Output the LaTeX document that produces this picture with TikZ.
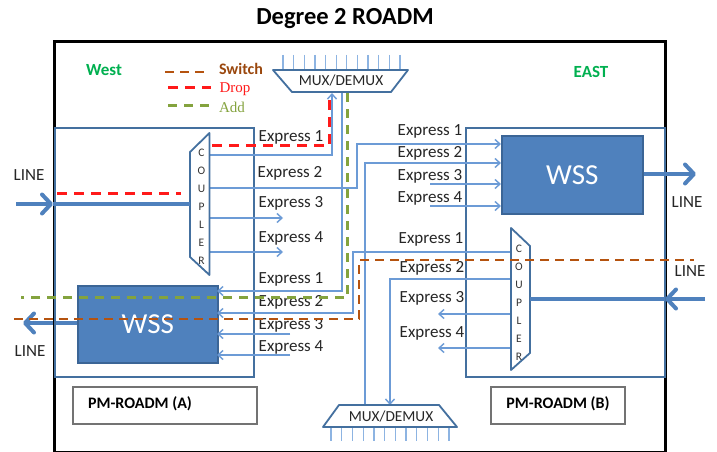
\documentclass[tikz,border=0pt]{standalone}
\usepackage{fontspec}
\setmainfont{Carlito}
\newfontfamily\serifface{Liberation Serif}
\usetikzlibrary{arrows.meta}
\definecolor{thickblue}{HTML}{4F81BD}
\definecolor{thinblue}{HTML}{6C9BD6}
\definecolor{boxblue}{HTML}{44709F}
\definecolor{wssedge}{HTML}{3B6596}
\definecolor{tickblue}{HTML}{8DB4E2}
\definecolor{greenlabel}{HTML}{00B050}
\definecolor{switchbrown}{HTML}{B5530F}
\definecolor{dropred}{HTML}{FF1A1A}
\definecolor{addolive}{HTML}{84A33E}
\newcommand{\fs}[1]{\fontsize{#1}{#1}\selectfont}
\tikzset{
  frame/.style={draw=black,line width=2.8pt},
  pmbox/.style={draw=boxblue,line width=1.7pt},
  wssbox/.style={draw=wssedge,line width=1.5pt,fill=thickblue,text=white,font=\fs{29},inner sep=0pt,anchor=north west},
  trap/.style={draw=boxblue,line width=1.8pt,fill=white,line join=round},
  flow/.style={draw=thinblue,line width=1.6pt,-{Straight Barb[length=5pt,width=9pt,line width=1.4pt]}},
  thickline/.style={draw=thickblue,line width=4pt},
  thickarrow/.style={draw=thickblue,line width=4pt,-{Straight Barb[length=9pt,width=19pt,line width=4pt,round]}},
  tick/.style={draw=tickblue,line width=1.3pt},
  switchline/.style={draw=switchbrown,line width=2.2pt,dash pattern=on 9pt off 6pt},
  dropline/.style={draw=dropred,line width=3pt,dash pattern=on 10pt off 7pt},
  addline/.style={draw=addolive,line width=3pt,dash pattern=on 9pt off 7pt},
  explabel/.style={font=\fs{17},text=black!85,inner sep=0pt,yshift=-1pt},
  linelabel/.style={font=\fs{17},text=black!85,inner sep=0pt,yshift=-1pt},
  muxlabel/.style={font=\fs{15.3},text=black!85,inner sep=0pt},
  pmlabel/.style={draw=black!55,line width=1.5pt,fill=white,anchor=north west,inner sep=0pt},
  letters/.style={font=\fs{11.5},text=black!80,align=center,inner sep=0pt},
}
\begin{document}
\begin{tikzpicture}[x=1pt,y=-1pt]
\useasboundingbox[fill=white] (0,0) rectangle (717,452);

% west line output passes under the frame
\node[wssbox,minimum width=140pt,minimum height=77pt] (wssA) at (77,285) {};
\coordinate (lineAout) at (23,323);
\draw[thickarrow] (wssA.west |- lineAout) -- (lineAout);

% frame
\node[frame,minimum width=611pt,minimum height=411pt,anchor=north west,inner sep=0pt] (roadm) at (53,40) {};

% PM boxes
\node[pmbox,minimum width=199pt,minimum height=249pt,anchor=north west,inner sep=0pt] (pmA) at (54,127) {};
\node[pmbox,minimum width=199pt,minimum height=249pt,anchor=north west,inner sep=0pt] (pmB) at (465,127) {};
\node[pmlabel,minimum width=184pt,minimum height=37pt] (nameA) at (72,386) {};
\node[pmlabel,minimum width=134pt,minimum height=37pt] (nameB) at (490,386) {};
\node[font=\bfseries\fs{16},inner sep=0pt] at (140,404) {PM-ROADM (A)};
\node[font=\bfseries\fs{16},inner sep=0pt] at (558,404) {PM-ROADM (B)};

% WSS boxes
\node[wssbox,minimum width=140pt,minimum height=77pt] (wssAface) at (77,285) {WSS};
\node[wssbox,minimum width=141pt,minimum height=78pt] (wssB) at (501,135) {WSS};

% ports
\coordinate (caE1) at (210,155);
\coordinate (caE2) at (210,188);
\coordinate (caE3) at (210,218);
\coordinate (caE4) at (210,252);
\coordinate (caE3end) at (283,218);
\coordinate (caE4end) at (283,252);
\coordinate (cbE1) at (511,252);
\coordinate (cbE2) at (511,279);
\coordinate (cbE3) at (511,314);
\coordinate (cbE4) at (511,348);
\coordinate (cbE3end) at (438,314);
\coordinate (cbE4end) at (438,348);
\coordinate (topA) at (332,93);
\coordinate (topB) at (342,92);
\coordinate (riseE2) at (357,144);
\coordinate (riseBot) at (365,405);
\coordinate (riseTop) at (365,163);
\coordinate (dropV) at (353,252);
\coordinate (botIn) at (390,405);
\coordinate (wA1) at (217,291);
\coordinate (wA2) at (217,313);
\coordinate (wA3) at (217,334);
\coordinate (wA4) at (217,355);
\coordinate (wA3s) at (290,334);
\coordinate (wA4s) at (290,355);
\coordinate (wB1) at (501,144);
\coordinate (wB2) at (501,163);
\coordinate (wB3) at (501,184);
\coordinate (wB4) at (501,206);
\coordinate (wB3s) at (430,184);
\coordinate (wB4s) at (430,206);

% thin connectors
\draw[flow] (caE1) -| (topA);
\draw[flow] (caE2) -| (riseE2) -- (wB1);
\draw[flow] (caE3) -- (caE3end);
\draw[flow] (caE4) -- (caE4end);
\draw[flow] (topB) |- (wA1);
\draw[flow] (cbE1) -- (dropV) |- (wA2);
\draw[flow] (riseBot) |- (wB2);
\draw[flow] (cbE2) -| (botIn);
\draw[flow] (cbE3) -- (cbE3end);
\draw[flow] (cbE4) -- (cbE4end);
\draw[flow] (wB3s) -- (wB3);
\draw[flow] (wB4s) -- (wB4);
\draw[flow] (wA3s) -- (wA3);
\draw[flow] (wA4s) -- (wA4);

% couplers
\draw[trap] (190,152) coordinate (cplAa) -- (209.5,133) -- (209.5,275) -- (190,257) coordinate (cplAb) -- cycle;
\draw[trap] (511,228) -- (530,246) coordinate (cplBa) -- (530,353) -- (511,370) -- cycle;
\node[letters] (cplAtext) at (201.5,207) {C\\[6.5pt]O\\[6.5pt]U\\[6.5pt]P\\[6.5pt]L\\[6.5pt]E\\[6.5pt]R};
\node[letters] (cplBtext) at (519,303) {C\\[6.5pt]O\\[6.5pt]U\\[6.5pt]P\\[6.5pt]L\\[6.5pt]E\\[6.5pt]R};

% mux blocks
\foreach \i in {0,...,11} {\draw[tick] ({283+\i*10.64},55) -- ({283+\i*10.64},70);}
\foreach \i in {0,...,11} {\draw[tick] ({331+\i*10.73},427) -- ({331+\i*10.73},441);}
\draw[trap] (273,70) -- (408,70) -- (391,92) -- (292,92) -- cycle;
\draw[trap] (339,405) -- (439,405) -- (457,427) -- (323,427) -- cycle;
\node[muxlabel] (muxTop) at (341,81) {MUX/DEMUX};
\node[muxlabel] (muxBot) at (391,417) {MUX/DEMUX};

% thick lines
\coordinate (lineAin) at (16,204);
\coordinate (lineAedge) at (53,204);
\coordinate (lineBout) at (696,174);
\coordinate (lineBin) at (705,299);
\coordinate (lineBedge) at (665,299);
\draw[thickarrow] (lineAin) -- (lineAedge);
\draw[thickline] (lineAedge) -- (cplAa |- lineAedge);
\draw[thickarrow] (wssB.east |- lineBout) -- (lineBout);
\draw[thickline] (cplBa |- lineBedge) -- (lineBedge);
\draw[thickarrow] (lineBin) -- (lineBedge);

% express labels
\node[explabel] at (291,136) {Express 1};
\node[explabel] at (290,172) {Express 2};
\node[explabel] at (291,202) {Express 3};
\node[explabel] at (291,237) {Express 4};
\node[explabel] at (291,278) {Express 1};
\node[explabel] at (291,301) {Express 2};
\node[explabel] at (291,324) {Express 3};
\node[explabel] at (291,346) {Express 4};
\node[explabel] at (430,130) {Express 1};
\node[explabel] at (430,152) {Express 2};
\node[explabel] at (430,175) {Express 3};
\node[explabel] at (430,197) {Express 4};
\node[explabel] at (431,238) {Express 1};
\node[explabel] at (432,267) {Express 2};
\node[explabel] at (432,297) {Express 3};
\node[explabel] at (432,332) {Express 4};

% dashed paths
\coordinate (dropLs) at (57,193.5);
\coordinate (dropLe) at (181,193.5);
\coordinate (dropS) at (212,145.5);
\coordinate (dropT) at (329,96);
\coordinate (addT) at (347.5,93);
\coordinate (addE) at (21,297.6);
\coordinate (swS) at (14,318.6);
\coordinate (swV) at (359,259.6);
\coordinate (swE) at (694,259.6);
\draw[dropline] (dropLs) -- (dropLe);
\draw[dropline] (dropS) -| (dropT);
\draw[addline] (addT) |- (addE);
\draw[switchline] (swS) -| (swV) -- (swE);

% legend
\coordinate (lg1a) at (165,72); \coordinate (lg1b) at (207,72);
\coordinate (lg2a) at (168,87); \coordinate (lg2b) at (211,87);
\coordinate (lg3a) at (168,105.5); \coordinate (lg3b) at (211,105.5);
\draw[switchline] (lg1a) -- (lg1b);
\draw[dropline] (lg2a) -- (lg2b);
\draw[addline] (lg3a) -- (lg3b);
\node[font=\bfseries\fs{16},text=switchbrown!85!black,inner sep=0pt] at (241,69) {Switch};
\node[font=\serifface\fs{15},text=dropred,inner sep=0pt] at (235,89) {Drop};
\node[font=\serifface\fs{15},text=addolive,inner sep=0pt] at (232,107) {Add};

% labels
\node[font=\bfseries\fs{24.5},inner sep=0pt] (title) at (345,19) {Degree 2 ROADM};
\node[font=\bfseries\fs{17},text=greenlabel,inner sep=0pt] at (104,70) {West};
\node[font=\bfseries\fs{17},text=greenlabel,inner sep=0pt] at (591,72) {EAST};
\node[linelabel] at (29,174) {LINE};
\node[linelabel] at (30,350) {LINE};
\node[linelabel] at (687,201) {LINE};
\node[linelabel] at (690,270) {LINE};
\end{tikzpicture}
\end{document}
